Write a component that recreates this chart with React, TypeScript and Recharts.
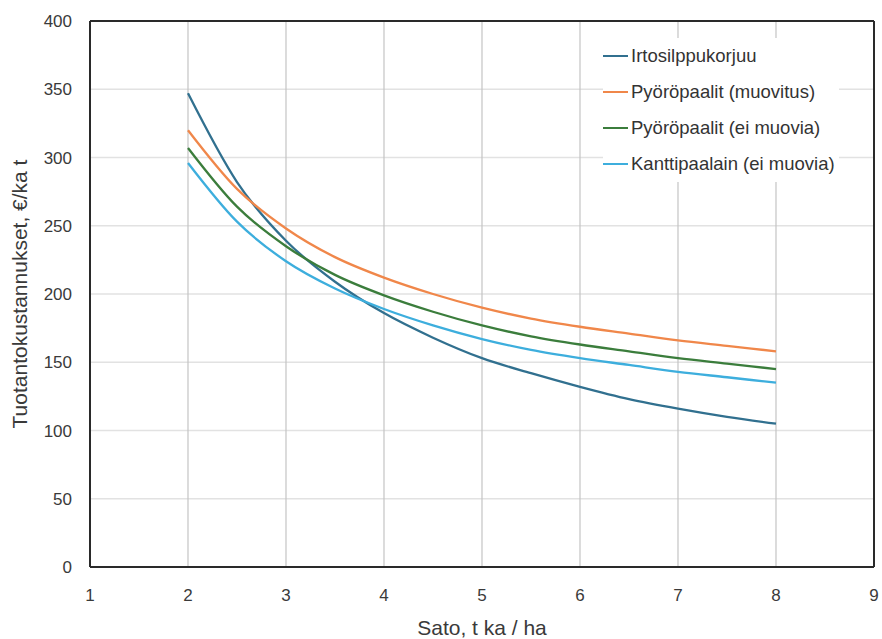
import React from "react";
import {
  LineChart,
  Line,
  XAxis,
  YAxis,
  CartesianGrid,
  ReferenceLine,
} from "recharts";

const sato = [2, 2.5, 3, 3.5, 4, 4.5, 5, 5.5, 6, 6.5, 7, 7.5, 8];
const irtosilppukorjuu = [347, 282, 239, 209, 186, 168, 153, 142, 132, 123, 116, 110, 105];
const pyoropaalitMuovitus = [320, 277, 248, 227, 212, 200, 190, 182, 176, 171, 166, 162, 158];
const pyoropaalitEiMuovia = [307, 264, 235, 214, 199, 187, 177, 169, 163, 158, 153, 149, 145];
const kanttipaalain = [296, 253, 224, 204, 189, 177, 167, 159, 153, 148, 143, 139, 135];

const xTicks = [1, 2, 3, 4, 5, 6, 7, 8, 9];
const yTicks = [0, 50, 100, 150, 200, 250, 300, 350, 400];

const seriesNames = [
  "Irtosilppukorjuu",
  "Pyöröpaalit (muovitus)",
  "Pyöröpaalit (ei muovia)",
  "Kanttipaalain (ei muovia)",
];
const seriesColors = ["#31708F", "#F0874A", "#3B7D3C", "#3DAEDD"];

const data = sato.map((x, i) => ({
  x,
  s0: irtosilppukorjuu[i],
  s1: pyoropaalitMuovitus[i],
  s2: pyoropaalitEiMuovia[i],
  s3: kanttipaalain[i],
}));

const FONT = "'Liberation Sans', Arial, sans-serif";

function LegendBox() {
  return (
    <div
      style={{
        position: "absolute",
        left: 603,
        top: 38,
        fontFamily: FONT,
        fontSize: 18.5,
        color: "#333",
        background: "#fff",
        padding: "0 4px 0 0",
      }}
    >
      {seriesNames.map((n, i) => (
        <div key={i} style={{ display: "flex", alignItems: "center", height: 36 }}>
          <span
            style={{
              display: "inline-block",
              width: 25,
              height: 2.5,
              background: seriesColors[i],
              marginRight: 3,
            }}
          />
          <span>{n}</span>
        </div>
      ))}
    </div>
  );
}

export default function App() {
  return (
    <div style={{ position: "absolute", left: 0, top: 0, width: 882, height: 639, background: "#fff" }}>
      <LineChart
        width={882}
        height={639}
        data={data}
        margin={{ top: 21, right: 8, bottom: 0, left: 0 }}
      >
        <CartesianGrid horizontal={true} vertical={false} stroke="#e2e2e2" strokeWidth={1.5} />
        <CartesianGrid horizontal={false} vertical={true} stroke="#c4c4c4" strokeWidth={1.2} />
        <XAxis
          dataKey="x"
          type="number"
          domain={[1, 9]}
          ticks={xTicks}
          interval={0}
          height={72}
          tickLine={false}
          tickSize={0}
          tickMargin={22}
          axisLine={{ stroke: "#2a2a2a", strokeWidth: 2 }}
          tick={{ fill: "#3a3a3a", fontSize: 17, fontFamily: FONT }}
          label={{
            value: "Sato, t ka / ha",
            position: "insideBottom",
            offset: 4,
            fill: "#3a3a3a",
            fontSize: 21,
            fontFamily: FONT,
          }}
        />
        <YAxis
          type="number"
          domain={[0, 400]}
          ticks={yTicks}
          interval={0}
          width={90}
          tickLine={false}
          tickSize={0}
          tickMargin={18}
          axisLine={{ stroke: "#2a2a2a", strokeWidth: 2 }}
          tick={{ fill: "#3a3a3a", fontSize: 17, fontFamily: FONT }}
          label={{
            value: "Tuotantokustannukset, €/ka t",
            angle: -90,
            position: "insideLeft",
            offset: 0,
            dx: 20,
            style: { textAnchor: "middle" },
            fill: "#3a3a3a",
            fontSize: 21,
            fontFamily: FONT,
          }}
        />
        <ReferenceLine y={400} stroke="#2a2a2a" strokeWidth={2} />
        <ReferenceLine x={9} stroke="#2a2a2a" strokeWidth={2} />
        {["s0", "s1", "s2", "s3"].map((k, i) => (
          <Line
            key={k}
            dataKey={k}
            name={seriesNames[i]}
            type="monotone"
            stroke={seriesColors[i]}
            strokeWidth={2.3}
            dot={false}
            activeDot={false}
            isAnimationActive={false}
          />
        ))}
      </LineChart>
      <LegendBox />
    </div>
  );
}
